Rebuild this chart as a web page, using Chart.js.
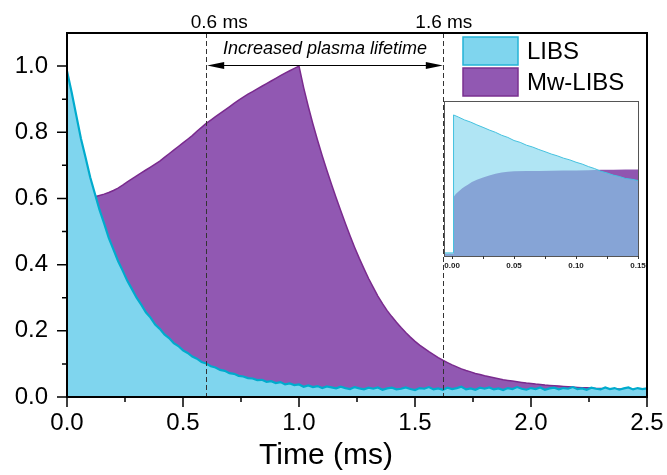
<!DOCTYPE html>
<html><head><meta charset="utf-8">
<script src="https://cdn.jsdelivr.net/npm/chart.js@4.4.1/dist/chart.umd.min.js"></script>
<style>
html,body{margin:0;padding:0;background:#fff;}
#wrap{position:relative;width:667px;height:475px;overflow:hidden;background:#fff;}
#main{position:absolute;left:0;top:0;}
#inset{position:absolute;left:443px;top:100px;}
</style></head><body>
<div id="wrap"><canvas id="main" width="667" height="475"></canvas><canvas id="inset" width="224" height="175"></canvas></div>
<script>
// ---------------- data ----------------
const timeMs = [
0.00,0.02,0.04,0.06,0.08,0.10,0.12,0.14,0.16,0.18,
0.20,0.22,0.24,0.26,0.28,0.30,0.32,0.34,0.36,0.38,
0.40,0.42,0.44,0.46,0.48,0.50,0.52,0.54,0.56,0.58,
0.60,0.62,0.64,0.66,0.68,0.70,0.72,0.74,0.76,0.78,
0.80,0.82,0.84,0.86,0.88,0.90,0.92,0.94,0.96,0.98,
1.00,1.02,1.04,1.06,1.08,1.10,1.12,1.14,1.16,1.18,
1.20,1.22,1.24,1.26,1.28,1.30,1.32,1.34,1.36,1.38,
1.40,1.42,1.44,1.46,1.48,1.50,1.52,1.54,1.56,1.58,
1.60,1.62,1.64,1.66,1.68,1.70,1.72,1.74,1.76,1.78,
1.80,1.82,1.84,1.86,1.88,1.90,1.92,1.94,1.96,1.98,
2.00,2.02,2.04,2.06,2.08,2.10,2.12,2.14,2.16,2.18,
2.20,2.22,2.24,2.26,2.28,2.30,2.32,2.34,2.36,2.38,
2.40,2.42,2.44,2.46,2.48,2.50];
const libsValues = [
0.985,0.921,0.851,0.781,0.724,0.664,0.615,0.566,0.525,0.481,
0.446,0.411,0.382,0.351,0.326,0.300,0.279,0.256,0.240,0.219,
0.206,0.189,0.178,0.163,0.154,0.141,0.133,0.122,0.116,0.106,
0.101,0.093,0.089,0.082,0.079,0.072,0.070,0.064,0.062,0.057,
0.056,0.051,0.052,0.046,0.048,0.042,0.045,0.038,0.041,0.036,
0.038,0.031,0.035,0.030,0.033,0.027,0.032,0.029,0.026,0.031,
0.027,0.024,0.030,0.026,0.023,0.028,0.025,0.029,0.022,0.026,
0.028,0.023,0.025,0.029,0.024,0.021,0.027,0.025,0.030,0.023,
0.026,0.022,0.028,0.024,0.027,0.031,0.023,0.026,0.022,0.028,
0.025,0.029,0.023,0.026,0.021,0.027,0.024,0.030,0.025,0.022,
0.027,0.024,0.029,0.022,0.026,0.028,0.023,0.027,0.025,0.030,
0.024,0.026,0.022,0.028,0.025,0.023,0.029,0.024,0.027,0.022,
0.026,0.029,0.023,0.027,0.024,0.026];
const mwLibsValues = [
0.450,0.550,0.585,0.595,0.600,0.602,0.605,0.609,0.613,0.618,
0.624,0.631,0.640,0.650,0.659,0.668,0.677,0.686,0.695,0.704,
0.713,0.724,0.735,0.746,0.757,0.768,0.779,0.790,0.803,0.815,
0.827,0.837,0.847,0.857,0.867,0.877,0.887,0.897,0.906,0.915,
0.923,0.931,0.939,0.947,0.955,0.963,0.971,0.979,0.986,0.993,
1.000,0.935,0.878,0.825,0.776,0.729,0.685,0.643,0.602,0.563,
0.524,0.487,0.452,0.419,0.388,0.358,0.331,0.305,0.282,0.261,
0.243,0.226,0.210,0.195,0.181,0.168,0.157,0.147,0.137,0.128,
0.119,0.111,0.104,0.097,0.091,0.085,0.080,0.076,0.071,0.068,
0.064,0.061,0.058,0.055,0.052,0.050,0.048,0.046,0.044,0.042,
0.041,0.039,0.038,0.036,0.035,0.034,0.033,0.032,0.031,0.030,
0.029,0.028,0.028,0.027,0.026,0.026,0.025,0.025,0.024,0.024,
0.023,0.023,0.023,0.022,0.022,0.022];

const seriesNames = ['LIBS','Mw-LIBS'];
const xAxisTitle = 'Time (ms)';
const xTickValues = [0,0.5,1.0,1.5,2.0,2.5];
const xTickLabels = ['0.0','0.5','1.0','1.5','2.0','2.5'];
const xMinorTicks = [0.25,0.75,1.25,1.75,2.25];
const yTickValues = [0,0.2,0.4,0.6,0.8,1.0];
const yTickLabels = ['0.0','0.2','0.4','0.6','0.8','1.0'];
const yMinorTicks = [0.1,0.3,0.5,0.7,0.9];
const markerTimes = [0.6,1.62];
const markerLabels = ['0.6 ms','1.6 ms'];
const annotationText = 'Increased plasma lifetime';

// inset data (0 - 0.15 ms, arbitrary units)
const insetLibsTime = [-0.0065,0.0008,0.0012,0.005,0.010,0.015,0.020,0.025,0.030,0.035,0.040,0.045,0.050,0.055,0.060,0.065,0.070,0.075,0.080,0.085,0.090,0.095,0.100,0.105,0.110,0.115,0.120,0.125,0.130,0.135,0.140,0.145,0.150];
const insetLibsValues = [0.020,0.020,0.910,0.897,0.878,0.864,0.846,0.830,0.813,0.798,0.779,0.765,0.745,0.733,0.715,0.703,0.687,0.673,0.658,0.646,0.631,0.620,0.605,0.593,0.577,0.564,0.547,0.536,0.522,0.513,0.500,0.495,0.487];
const insetMwTime = [-0.0065,0.0008,0.0012,0.003,0.005,0.008,0.010,0.013,0.016,0.020,0.025,0.030,0.035,0.040,0.045,0.050,0.060,0.070,0.080,0.090,0.100,0.110,0.120,0.130,0.140,0.150];
const insetMwValues = [0.015,0.015,0.380,0.400,0.415,0.435,0.447,0.462,0.477,0.492,0.507,0.520,0.530,0.538,0.543,0.546,0.548,0.549,0.550,0.551,0.552,0.554,0.556,0.557,0.558,0.558];
const insetTickValues = [0,0.05,0.10,0.15];
const insetTickLabels = ['0.00','0.05','0.10','0.15'];
const insetMinorTicks = [0.025,0.075,0.125];

// ---------------- style ----------------
const FONT = "'Liberation Sans', Arial, Helvetica, sans-serif";
const cyanFill = '#7fd5ee', cyanLine = '#00abcd';
const purpleFill = '#9158b2', purpleLine = '#7a2b8e';
Chart.defaults.font.family = FONT;
Chart.defaults.color = '#000';

const mainDecor = {
  id: 'mainDecor',
  afterDatasetsDraw(chart) {
    const {ctx, chartArea: a, scales: {x}} = chart;
    ctx.save();
    ctx.strokeStyle = '#333'; ctx.lineWidth = 1; ctx.setLineDash([5,3]);
    markerTimes.forEach(t => {
      const px = Math.round(x.getPixelForValue(t)) + 0.5;
      ctx.beginPath(); ctx.moveTo(px, a.top); ctx.lineTo(px, a.bottom); ctx.stroke();
    });
    ctx.setLineDash([]);
    ctx.restore();
  },
  afterDraw(chart) {
    const {ctx, chartArea: a, scales: {x, y}} = chart;
    ctx.save();
    // frame
    ctx.strokeStyle = '#000'; ctx.lineWidth = 2;
    ctx.strokeRect(a.left, a.top, a.right - a.left, a.bottom - a.top);
    // ticks
    ctx.lineWidth = 1.5;
    ctx.beginPath();
    xTickValues.forEach(v => { const p = x.getPixelForValue(v); ctx.moveTo(p, a.bottom); ctx.lineTo(p, a.bottom + 10); });
    xMinorTicks.forEach(v => { const p = x.getPixelForValue(v); ctx.moveTo(p, a.bottom); ctx.lineTo(p, a.bottom + 5); });
    yTickValues.forEach(v => { const p = y.getPixelForValue(v); ctx.moveTo(a.left, p); ctx.lineTo(a.left - 10, p); });
    yMinorTicks.forEach(v => { const p = y.getPixelForValue(v); ctx.moveTo(a.left, p); ctx.lineTo(a.left - 5, p); });
    ctx.stroke();
    // axis title (offset left of axis centre, as in the source figure)
    ctx.fillStyle = '#000'; ctx.textAlign = 'center'; ctx.textBaseline = 'middle';
    ctx.font = '30px ' + FONT;
    ctx.fillText(xAxisTitle, (a.left + a.right) / 2 - 31, 456);
    // marker labels
    const shifts = [13, 1];
    ctx.textBaseline = 'alphabetic';
    ctx.font = '19px ' + FONT;
    markerTimes.forEach((t, i) => ctx.fillText(markerLabels[i], x.getPixelForValue(t) + shifts[i], a.top - 5));
    // double arrow
    const x0 = x.getPixelForValue(markerTimes[0]) + 1, x1 = x.getPixelForValue(markerTimes[1]);
    const ay = a.top + 32.5;
    ctx.lineWidth = 1;
    ctx.beginPath(); ctx.moveTo(x0 + 10, ay); ctx.lineTo(x1 - 10, ay); ctx.stroke();
    ctx.beginPath(); ctx.moveTo(x0, ay); ctx.lineTo(x0 + 17, ay - 3.5); ctx.lineTo(x0 + 17, ay + 3.5); ctx.closePath(); ctx.fill();
    ctx.beginPath(); ctx.moveTo(x1, ay); ctx.lineTo(x1 - 17, ay - 3.5); ctx.lineTo(x1 - 17, ay + 3.5); ctx.closePath(); ctx.fill();
    ctx.font = 'italic 18px ' + FONT;
    ctx.fillText(annotationText, (x0 + x1) / 2, a.top + 21);
    // legend
    const lx = a.right - 184, sw = 55, sh = 28;
    const items = [[cyanFill, '#25b3d6'], [purpleFill, '#7a3190']];
    ctx.font = '24px ' + FONT; ctx.textAlign = 'left'; ctx.textBaseline = 'middle';
    items.forEach((c, i) => {
      const ty = a.top + 4 + i * 31;
      ctx.fillStyle = c[0]; ctx.fillRect(lx, ty, sw, sh);
      ctx.strokeStyle = c[1]; ctx.lineWidth = 1.5; ctx.strokeRect(lx, ty, sw, sh);
      ctx.fillStyle = '#000'; ctx.fillText(seriesNames[i], a.right - 120, ty + sh / 2 + 1);
    });
    ctx.restore();
  }
};

new Chart(document.getElementById('main'), {
  type: 'line',
  data: {
    datasets: [
      { label: seriesNames[0], data: timeMs.map((t, i) => ({x: t, y: libsValues[i]})),
        borderColor: cyanLine, backgroundColor: cyanFill, borderWidth: 2.2, fill: 'origin', pointRadius: 0, tension: 0 },
      { label: seriesNames[1], data: timeMs.map((t, i) => ({x: t, y: mwLibsValues[i]})),
        borderColor: purpleLine, backgroundColor: purpleFill, borderWidth: 1.5, fill: 'origin', pointRadius: 0, tension: 0 }
    ]
  },
  options: {
    responsive: false, animation: false, events: [],
    layout: { padding: { top: 33, right: 20, left: 0, bottom: 0 } },
    plugins: { legend: { display: false }, tooltip: { enabled: false } },
    scales: {
      x: {
        type: 'linear', min: 0, max: 2.5,
        grid: { display: false, drawTicks: false }, border: { display: false },
        afterBuildTicks: s => { s.ticks = xTickValues.map(v => ({value: v})); },
        afterFit: s => { s.height = 78; s.paddingLeft = 0; s.paddingRight = 0; },
        ticks: { autoSkip: false, maxRotation: 0, padding: 12, font: { size: 24 }, color: '#000',
          callback: (v, i) => xTickLabels[i] },
        title: { display: false, text: xAxisTitle }
      },
      y: {
        type: 'linear', min: 0, max: 1.1,
        grid: { display: false, drawTicks: false }, border: { display: false },
        afterBuildTicks: s => { s.ticks = yTickValues.map(v => ({value: v})); },
        afterFit: s => { s.width = 67; s.paddingTop = 0; s.paddingBottom = 0; },
        ticks: { autoSkip: false, padding: 19, font: { size: 24 }, color: '#000',
          callback: (v, i) => yTickLabels[i] }
      }
    }
  },
  plugins: [mainDecor]
});

// ---------------- inset ----------------
const insetDecor = {
  id: 'insetDecor',
  beforeDatasetsDraw(chart) {
    const {ctx, chartArea: a} = chart;
    ctx.save(); ctx.fillStyle = '#fff'; ctx.fillRect(a.left, a.top, a.right - a.left, a.bottom - a.top); ctx.restore();
  },
  afterDraw(chart) {
    const {ctx, chartArea: a, scales: {x}} = chart;
    ctx.save();
    ctx.strokeStyle = '#555'; ctx.lineWidth = 1;
    ctx.strokeRect(a.left + 0.5, a.top + 0.5, a.right - a.left, a.bottom - a.top);
    ctx.strokeStyle = '#333';
    ctx.beginPath();
    insetTickValues.concat(insetMinorTicks).forEach(v => {
      const p = Math.round(x.getPixelForValue(v)) + 0.5;
      ctx.moveTo(p, a.bottom); ctx.lineTo(p, a.bottom + 3);
    });
    ctx.stroke();
    ctx.restore();
  }
};

new Chart(document.getElementById('inset'), {
  type: 'line',
  data: {
    datasets: [
      { label: seriesNames[0], data: insetLibsTime.map((t, i) => ({x: t, y: insetLibsValues[i]})),
        borderColor: '#45c2df', backgroundColor: 'rgba(127,213,238,0.62)', borderWidth: 1, fill: 'origin', pointRadius: 0, tension: 0 },
      { label: seriesNames[1], data: insetMwTime.map((t, i) => ({x: t, y: insetMwValues[i]})),
        borderColor: 'rgba(0,0,0,0)', backgroundColor: '#9056b0', borderWidth: 0, fill: 'origin', pointRadius: 0, tension: 0 }
    ]
  },
  options: {
    responsive: false, animation: false, events: [],
    layout: { padding: { top: 1, right: 29, left: 1, bottom: 0 } },
    plugins: { legend: { display: false }, tooltip: { enabled: false } },
    scales: {
      x: {
        type: 'linear', min: -0.0065, max: 0.15,
        grid: { display: false, drawTicks: false }, border: { display: false },
        afterBuildTicks: s => { s.ticks = insetTickValues.map(v => ({value: v})); },
        afterFit: s => { s.height = 19; s.paddingLeft = 0; s.paddingRight = 0; },
        ticks: { autoSkip: false, maxRotation: 0, padding: 5, font: { size: 8, weight: 'bold' }, color: '#222',
          callback: (v, i) => insetTickLabels[i] }
      },
      y: { type: 'linear', min: 0, max: 1, display: false }
    }
  },
  plugins: [insetDecor]
});
</script>
</body></html>
